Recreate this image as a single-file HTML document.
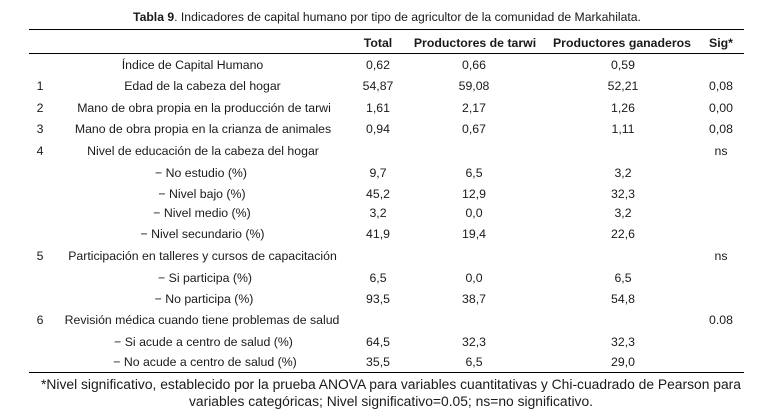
<!DOCTYPE html>
<html>
<head>
<meta charset="utf-8">
<style>
  html, body { margin:0; padding:0; background:#fff; }
  body { width:782px; height:419px; position:relative; overflow:hidden;
         font-family:"Liberation Sans", Arial, sans-serif; color:#1a1a1a; }
  .c { position:absolute; width:700px; margin-left:-350px; text-align:center;
       height:16px; line-height:16px; margin-top:-8px; font-size:12.3px; white-space:nowrap; }
  .b { font-weight:bold; }
  .ln { position:absolute; left:29px; width:715px; height:1px; background:#000; }
  .ft { position:absolute; width:782px; left:0; text-align:center; font-size:13.85px;
        height:18px; line-height:18px; margin-top:-9px; white-space:nowrap; }
</style>
</head>
<body>
<div class="c" style="left:387px;top:17px;font-size:12.2px;"><b>Tabla 9</b>. Indicadores de capital humano por tipo de agricultor de la comunidad de Markahilata.</div>

<div class="ln" style="top:29px;"></div>
<div class="ln" style="top:53px;"></div>
<div class="ln" style="top:372px;"></div>

<!-- header -->
<div class="c b" style="left:378px;top:42.5px;">Total</div>
<div class="c b" style="left:475px;top:42.5px;">Productores de tarwi</div>
<div class="c b" style="left:622px;top:42.5px;">Productores ganaderos</div>
<div class="c b" style="left:721px;top:42.5px;">Sig*</div>

<!-- row 0 -->
<div class="c" style="left:192.5px;top:64.5px;">Índice de Capital Humano</div>
<div class="c" style="left:378px;top:64.5px;">0,62</div>
<div class="c" style="left:474px;top:64.5px;">0,66</div>
<div class="c" style="left:623px;top:64.5px;">0,59</div>

<!-- row 1 -->
<div class="c" style="left:40px;top:85.5px;">1</div>
<div class="c" style="left:202.5px;top:85.5px;">Edad de la cabeza del hogar</div>
<div class="c" style="left:378px;top:85.5px;">54,87</div>
<div class="c" style="left:474px;top:85.5px;">59,08</div>
<div class="c" style="left:623px;top:85.5px;">52,21</div>
<div class="c" style="left:721px;top:85.5px;">0,08</div>

<!-- row 2 -->
<div class="c" style="left:40px;top:107.5px;">2</div>
<div class="c" style="left:204px;top:107.5px;">Mano de obra propia en la producción de tarwi</div>
<div class="c" style="left:378px;top:107.5px;">1,61</div>
<div class="c" style="left:474px;top:107.5px;">2,17</div>
<div class="c" style="left:623px;top:107.5px;">1,26</div>
<div class="c" style="left:721px;top:107.5px;">0,00</div>

<!-- row 3 -->
<div class="c" style="left:40px;top:129px;">3</div>
<div class="c" style="left:203px;top:129px;">Mano de obra propia en la crianza de animales</div>
<div class="c" style="left:378px;top:129px;">0,94</div>
<div class="c" style="left:474px;top:129px;">0,67</div>
<div class="c" style="left:623px;top:129px;">1,11</div>
<div class="c" style="left:721px;top:129px;">0,08</div>

<!-- row 4 -->
<div class="c" style="left:40px;top:151px;">4</div>
<div class="c" style="left:203px;top:151px;">Nivel de educación de la cabeza del hogar</div>
<div class="c" style="left:721px;top:151px;">ns</div>

<!-- row 5 -->
<div class="c" style="left:201px;top:172.5px;">− No estudio (%)</div>
<div class="c" style="left:378px;top:172.5px;">9,7</div>
<div class="c" style="left:474px;top:172.5px;">6,5</div>
<div class="c" style="left:623px;top:172.5px;">3,2</div>

<!-- row 6 -->
<div class="c" style="left:202px;top:193.5px;">− Nivel bajo (%)</div>
<div class="c" style="left:378px;top:193.5px;">45,2</div>
<div class="c" style="left:474px;top:193.5px;">12,9</div>
<div class="c" style="left:623px;top:193.5px;">32,3</div>

<!-- row 7 -->
<div class="c" style="left:202px;top:213px;">− Nivel medio (%)</div>
<div class="c" style="left:378px;top:213px;">3,2</div>
<div class="c" style="left:474px;top:213px;">0,0</div>
<div class="c" style="left:623px;top:213px;">3,2</div>

<!-- row 8 -->
<div class="c" style="left:202.5px;top:234px;">− Nivel secundario (%)</div>
<div class="c" style="left:378px;top:234px;">41,9</div>
<div class="c" style="left:474px;top:234px;">19,4</div>
<div class="c" style="left:623px;top:234px;">22,6</div>

<!-- row 9 -->
<div class="c" style="left:40px;top:255.5px;">5</div>
<div class="c" style="left:202.5px;top:255.5px;">Participación en talleres y cursos de capacitación</div>
<div class="c" style="left:721px;top:255.5px;">ns</div>

<!-- row 10 -->
<div class="c" style="left:205px;top:277.5px;">− Si participa (%)</div>
<div class="c" style="left:378px;top:277.5px;">6,5</div>
<div class="c" style="left:474px;top:277.5px;">0,0</div>
<div class="c" style="left:623px;top:277.5px;">6,5</div>

<!-- row 11 -->
<div class="c" style="left:204px;top:298.5px;">− No participa (%)</div>
<div class="c" style="left:378px;top:298.5px;">93,5</div>
<div class="c" style="left:474px;top:298.5px;">38,7</div>
<div class="c" style="left:623px;top:298.5px;">54,8</div>

<!-- row 12 -->
<div class="c" style="left:40px;top:320px;">6</div>
<div class="c" style="left:202px;top:320px;">Revisión médica cuando tiene problemas de salud</div>
<div class="c" style="left:721px;top:320px;">0.08</div>

<!-- row 13 -->
<div class="c" style="left:203.5px;top:341.5px;">− Si acude a centro de salud (%)</div>
<div class="c" style="left:378px;top:341.5px;">64,5</div>
<div class="c" style="left:474px;top:341.5px;">32,3</div>
<div class="c" style="left:623px;top:341.5px;">32,3</div>

<!-- row 14 -->
<div class="c" style="left:205px;top:362px;">− No acude a centro de salud (%)</div>
<div class="c" style="left:378px;top:362px;">35,5</div>
<div class="c" style="left:474px;top:362px;">6,5</div>
<div class="c" style="left:623px;top:362px;">29,0</div>

<!-- footer -->
<div class="ft" style="top:384px;">*Nivel significativo, establecido por la prueba ANOVA para variables cuantitativas y Chi-cuadrado de Pearson para</div>
<div class="ft" style="top:400.5px;">variables categóricas; Nivel significativo=0.05; ns=no significativo.</div>
</body>
</html>
